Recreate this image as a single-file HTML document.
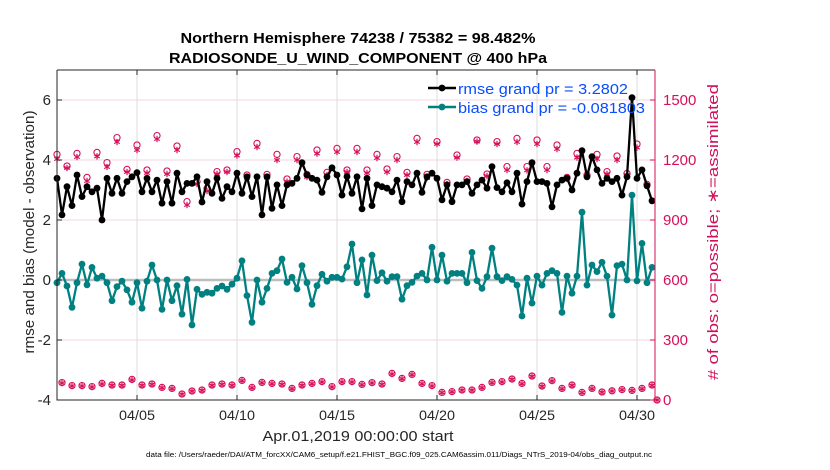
<!DOCTYPE html>
<html><head><meta charset="utf-8"><style>
html,body{margin:0;padding:0;background:#fff;}
svg{display:block;font-family:"Liberation Sans",sans-serif;}
</style></head><body>
<svg id="chart" width="830" height="470" viewBox="0 0 830 470" xmlns="http://www.w3.org/2000/svg">
<text x="358" y="43" text-anchor="middle" font-size="14.5" font-weight="bold" textLength="355" lengthAdjust="spacingAndGlyphs">Northern Hemisphere 74238 / 75382 = 98.482%</text>
<text x="358" y="63" text-anchor="middle" font-size="14.5" font-weight="bold" textLength="378" lengthAdjust="spacingAndGlyphs">RADIOSONDE_U_WIND_COMPONENT @ 400 hPa</text>
<g id="grid"></g>
<g id="marks"></g>
<g id="axes"></g>
<text transform="translate(34,232) rotate(-90)" text-anchor="middle" font-size="15" fill="#262626" textLength="243" lengthAdjust="spacingAndGlyphs">rmse and bias (model - observation)</text>
<text transform="translate(718,232) rotate(-90)" text-anchor="middle" font-size="15" fill="#d0105a" textLength="296" lengthAdjust="spacingAndGlyphs"># of obs: o=possible; ∗=assimilated</text>
<text x="358" y="441" text-anchor="middle" font-size="15" fill="#262626" textLength="191" lengthAdjust="spacingAndGlyphs">Apr.01,2019 00:00:00 start</text>
<text x="399" y="457" text-anchor="middle" font-size="7" fill="#000" textLength="506" lengthAdjust="spacingAndGlyphs">data file: /Users/raeder/DAI/ATM_forcXX/CAM6_setup/f.e21.FHIST_BGC.f09_025.CAM6assim.011/Diags_NTrS_2019-04/obs_diag_output.nc</text>
<g id="legend"></g>
</svg>
<script>
const tickDays = [4, 9, 14, 19, 24, 29];
const tickLabels = ["04/05", "04/10", "04/15", "04/20", "04/25", "04/30"];
const leftTicks = [-4, -2, 0, 2, 4, 6];
const rightTicks = [0, 300, 600, 900, 1200, 1500];
const rmse = [3.39,2.17,3.11,2.48,3.5,2.78,3.11,2.94,3.06,2.0,3.39,2.89,3.39,2.89,3.28,3.44,3.58,2.94,3.39,2.94,3.33,2.56,3.28,2.56,3.56,2.94,3.22,3.22,3.44,2.6,
3.28,2.89,3.39,2.72,3.11,2.94,3.56,2.89,3.44,2.78,3.44,2.17,3.44,2.39,3.17,2.48,3.17,3.22,3.39,3.91,3.5,3.39,3.33,2.92,3.44,3.74,3.5,2.83,3.45,
2.89,3.44,2.37,3.39,2.48,3.17,3.11,3.06,2.94,3.33,2.61,3.28,3.17,3.56,2.92,3.44,3.56,3.39,2.67,3.17,2.61,3.17,3.17,3.28,2.89,3.17,3.33,3.06,
3.78,3.08,2.94,3.24,2.94,3.56,2.53,3.28,3.91,3.28,3.28,3.22,2.44,3.17,3.33,3.39,3.0,3.56,4.31,3.44,4.11,3.67,3.22,3.39,3.28,3.39,2.83,3.44,6.08,3.39,3.67,3.14,2.64];
const bias = [-0.09,0.22,-0.2,-0.91,-0.09,0.53,-0.16,0.42,0.06,0.13,-0.09,-0.69,-0.22,-0.04,-0.33,-0.74,-0.09,-0.94,-0.04,0.5,0.0,-0.98,0.0,-0.69,-0.19,-1.14,0.02,-1.5,-0.31,-0.48,
-0.41,-0.44,-0.28,-0.2,-0.31,-0.14,0.06,0.64,-0.52,-1.41,0.0,-0.74,-0.28,0.22,0.31,0.7,-0.08,0.09,-0.3,0.48,-0.09,-0.81,-0.19,0.19,-0.04,0.09,0.09,0.03,
0.44,1.2,
-0.09,0.67,-0.5,0.83,-0.02,0.24,-0.04,0.11,0.11,-0.64,-0.19,-0.08,0.13,0.22,0.0,1.09,0.0,0.83,-0.04,0.22,0.22,0.22,-0.09,0.92,-0.02,-0.28,0.11,1.06,
0.11,-0.02,0.11,0.02,-0.17,-1.2,0.06,-0.77,0.13,-0.17,0.22,0.31,0.22,-1.08,0.13,-0.44,0.13,2.26,-0.17,0.5,0.28,0.59,0.13,-1.17,0.48,0.53,0.0,2.83,-0.03,1.22,-0.09,0.42];
const possible = [1228,87,1170,72,1233,72,1113,67,1238,83,1187,75,1312,75,1153,103,1275,75,1150,80,1322,63,1145,58,1270,30,992,45,1092,50,
1058,75,1142,80,1150,75,1242,98,1125,63,1283,88,1128,83,1228,80,1105,58,1217,75,1128,83,1250,92,1138,67,1258,92,1150,92,
1258,78,1150,87,1228,80,1155,133,1217,108,1138,128,1308,83,1128,72,1292,38,1088,42,1225,50,1105,50,1300,63,1130,88,1292,92,
1167,105,1308,83,1167,120,1300,70,1167,97,1275,58,1113,75,1233,38,1125,58,1228,40,1142,46,1220,52,1133,48,1280,58,1078,75,
0];
const assimilated = [1205,85,1160,70,1215,70,1095,65,1218,80,1165,73,1290,73,1140,100,1250,73,1135,78,1305,61,1130,56,1250,29,975,44,1080,48,
1045,73,1130,78,1140,73,1222,96,1110,61,1265,86,1112,81,1200,78,1092,56,1200,73,1115,81,1232,90,1125,65,1240,90,1140,90,
1240,76,1135,85,1210,78,1140,130,1200,106,1125,126,1290,81,1110,70,1280,37,1080,41,1212,49,1095,49,1292,61,1120,86,1280,90,
1150,103,1290,81,1148,118,1280,68,1150,95,1255,56,1108,73,1212,37,1118,56,1205,39,1130,45,1200,51,1125,47,1262,56,1075,73,
0];

const NS = "http://www.w3.org/2000/svg";
const X0 = 57, X1 = 655, Y0 = 70, Y1 = 400;
const DAYS = 29.9;
function xDay(d){ return X0 + (d / DAYS) * (X1 - X0); }
function xIdx(i){ return xDay(i * 0.25); }
function yL(v){ return Y1 - (v + 4) / 11 * (Y1 - Y0); }
function yR(v){ return Y1 - v / 1650 * (Y1 - Y0); }
function mk(tag, attrs, parent){
  const el = document.createElementNS(NS, tag);
  for (const k in attrs) el.setAttribute(k, attrs[k]);
  parent.appendChild(el);
  return el;
}
const grid = document.getElementById('grid');
const marks = document.getElementById('marks');
const axes = document.getElementById('axes');
const legend = document.getElementById('legend');

tickDays.forEach(function(d){
  const g = mk('line', {x1:xDay(d), x2:xDay(d), y1:Y0, y2:Y1, stroke:'#dcdcdc', 'stroke-width':1}, grid);
  
  
});
leftTicks.forEach(function(v){
  if (v === -4 || v === 0) return;
  const g = mk('line', {x1:X0, x2:X1, y1:yL(v), y2:yL(v), stroke:'#f0d6e0', 'stroke-width':1}, grid);
  
  
});
const zl = mk('line', {x1:X0, x2:X1, y1:yL(0), y2:yL(0), stroke:'#bdbdbd', 'stroke-width':2.5}, grid);



const MAG = '#d6105a';
possible.forEach(function(v, i){
  const c = mk('circle', {cx:xIdx(i), cy:yR(v), r:3.1, fill:'none', stroke:MAG, 'stroke-width':1.1}, marks);
  
  
});
assimilated.forEach(function(v, i){
  const cx = xIdx(i), cy = yR(v);
  const g = mk('g', {stroke:MAG, 'stroke-width':1.2}, marks);
  
  
  [30, 90, 150].forEach(function(a){
    const r = a * Math.PI / 180, s = 3.2;
    mk('line', {x1:cx - s*Math.cos(r), y1:cy - s*Math.sin(r), x2:cx + s*Math.cos(r), y2:cy + s*Math.sin(r)}, g);
  });
});

function series(vals, color, name){
  const pts = vals.map(function(v, i){ return xIdx(i).toFixed(2) + ',' + yL(v).toFixed(2); }).join(' ');
  const pl = mk('polyline', {points:pts, fill:'none', stroke:color, 'stroke-width':2.3, 'stroke-linejoin':'round'}, marks);
  
  
  vals.forEach(function(v, i){
    const c = mk('circle', {cx:xIdx(i), cy:yL(v), r:3.4, fill:color}, marks);
    
    
  });
}
series(bias, '#008080', 'bias');
series(rmse, '#000000', 'rmse');

// legend drawn above data
[['#000', 88, 'rmse grand pr = 3.2802', 170, 'legend-entry-rmse'], ['#008080', 107, 'bias grand pr = -0.081803', 187, 'legend-entry-bias']].forEach(function(e){
  mk('line', {x1:428, y1:e[1], x2:456, y2:e[1], stroke:e[0], 'stroke-width':2.5}, legend);
  mk('circle', {cx:442, cy:e[1], r:3.4, fill:e[0]}, legend);
  const t = mk('text', {x:458, y:e[1]+6, 'font-size':15, fill:'#0a4cff', textLength:e[3], lengthAdjust:'spacingAndGlyphs'}, legend);
  t.textContent = e[2];
  
  
});

const frame = mk('path', {d:'M'+X0+','+Y0+' H'+X1+' M'+X0+','+Y0+' V'+Y1+' H'+X1, fill:'none', stroke:'#262626', 'stroke-width':1}, axes);


const ra = mk('line', {x1:X1, x2:X1, y1:Y0, y2:Y1, stroke:MAG, 'stroke-width':1}, axes);


tickDays.forEach(function(d, k){
  const x = xDay(d);
  mk('line', {x1:x, x2:x, y1:Y1, y2:Y1-5, stroke:'#262626'}, axes);
  mk('line', {x1:x, x2:x, y1:Y0, y2:Y0+5, stroke:'#262626'}, axes);
  const t = mk('text', {x:x, y:420, 'text-anchor':'middle', 'font-size':14, fill:'#262626', textLength:36, lengthAdjust:'spacingAndGlyphs'}, axes);
  t.textContent = tickLabels[k];
  
  
});
leftTicks.forEach(function(v){
  const y = yL(v);
  mk('line', {x1:X0, x2:X0+5, y1:y, y2:y, stroke:'#262626'}, axes);
  const t = mk('text', {x:51, y:y+5, 'text-anchor':'end', 'font-size':15, fill:'#262626'}, axes);
  t.textContent = String(v);
  
  
});
rightTicks.forEach(function(v){
  const y = yR(v);
  mk('line', {x1:X1-5, x2:X1, y1:y, y2:y, stroke:MAG}, axes);
  const t = mk('text', {x:663, y:y+5, 'text-anchor':'start', 'font-size':15, fill:MAG}, axes);
  t.textContent = String(v);
  
  
});
</script>
</body></html>
